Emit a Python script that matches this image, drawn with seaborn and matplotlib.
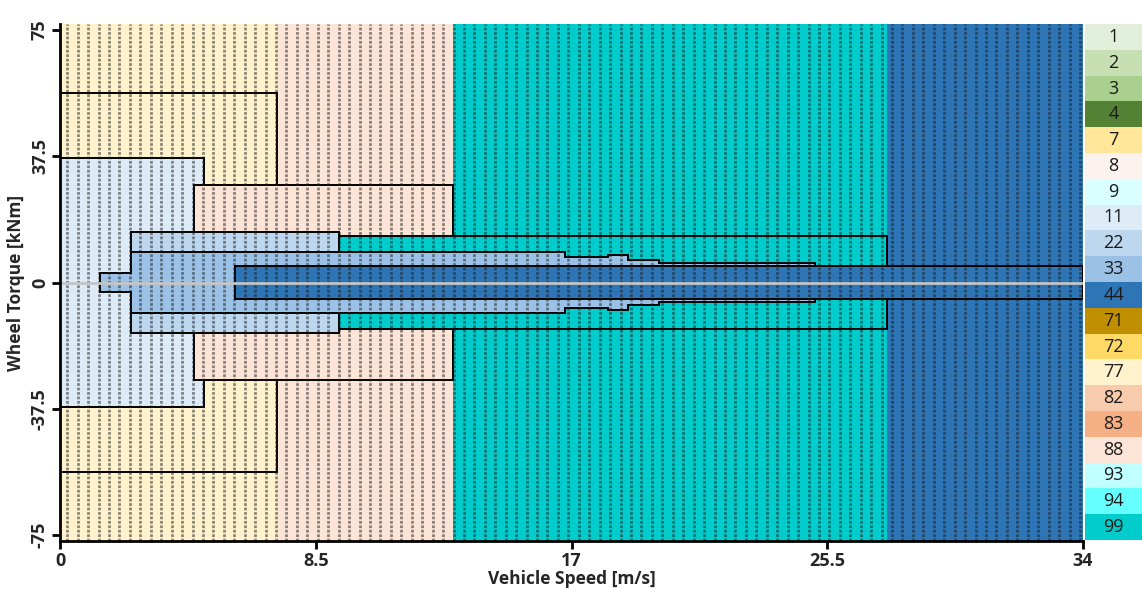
import numpy as np
import matplotlib
matplotlib.use("Agg")
import matplotlib.pyplot as plt
from matplotlib.colors import ListedColormap
import seaborn as sns

# ---------------- data ----------------
legend_classes = [1, 2, 3, 4, 7, 8, 9, 11, 22, 33, 44, 71, 72, 77, 82, 83, 88, 93, 94, 99]
legend_colors = ["#E2EFDA", "#C6E0B4", "#A9D08E", "#548235", "#FFE699", "#FDF3EE",
                 "#D9FFFF", "#DDEBF7", "#BDD7EE", "#9BC2E6", "#2E75B6", "#BF8F00",
                 "#FFD966", "#FFF2CC", "#F8CBAD", "#F4B084", "#FCE4D6", "#BFFFFF",
                 "#66FFFF", "#00CCCC"]
class_color = dict(zip(legend_classes, legend_colors))

# background speed bands (class over full torque range)
band_edges = [0, 7.21, 13.06, 27.48, 34]
band_classes = [77, 88, 99, 44]

# symmetric step regions: speed edges, half-height (kNm) per segment, class
reg77_x = [0, 7.21];                     reg77_h = [56.3]
reg11_x = [0, 4.79];                     reg11_h = [37.0]
reg88_x = [4.45, 13.06];                 reg88_h = [29.0]
reg99_x = [9.27, 27.48];                 reg99_h = [13.8]
reg22_x = [2.36, 9.27];                  reg22_h = [15.0]
reg33_x = [1.33, 2.36, 16.78, 18.21, 18.88, 19.91, 25.09]
reg33_h = [2.7, 9.0, 7.65, 8.2, 6.7, 5.9]
reg44_x = [5.82, 34];                    reg44_h = [4.8]
reg4_x = [16.85, 17.1];                  reg4_h = [0.35]

regions = [(reg77_x, reg77_h, 77, True), (reg11_x, reg11_h, 11, True),
           (reg88_x, reg88_h, 88, True), (reg99_x, reg99_h, 99, True),
           (reg22_x, reg22_h, 22, True), (reg33_x, reg33_h, 33, True),
           (reg44_x, reg44_h, 44, True), (reg4_x, reg4_h, 4, False)]

x_ticks = [0, 8.5, 17, 25.5, 34]
x_ticklabels = ["0", "8.5", "17", "25.5", "34"]
y_ticks = [75, 37.5, 0, -37.5, -75]
y_ticklabels = ["75", "37.5", "0", "-37.5", "-75"]

# ---------------- style ----------------
sns.set_theme(style="white")
plt.rcParams["font.family"] = ["Open Sans", "DejaVu Sans"]

fig = plt.figure(figsize=(11.42, 5.89), dpi=100)
ax = fig.add_axes([60 / 1142, 48 / 589, 1023 / 1142, 517 / 589])
lax = fig.add_axes([1085 / 1142, 49 / 589, 57 / 1142, 516 / 589])

ylim = 76.7
# background bands
for i, c in enumerate(band_classes):
    ax.fill_between([band_edges[i], band_edges[i + 1]], -ylim, ylim,
                    color=class_color[c], lw=0, zorder=1)


def step_poly(xs, hs):
    px, py = [], []
    for i, h in enumerate(hs):
        px += [xs[i], xs[i + 1]]
        py += [h, h]
    bot_x, bot_y = px[::-1], [-v for v in py[::-1]]
    return px + bot_x, py + bot_y


z = 2
for xs, hs, c, outline in regions:
    px, py = step_poly(xs, hs)
    ax.fill(px, py, facecolor=class_color[c],
            edgecolor="black" if outline else "none",
            lw=1.4, zorder=z, joinstyle="miter")
    z += 1

# dashed vertical hatching
hatch_x = np.arange(0.24, 34, 0.347)
ax.vlines(hatch_x, -ylim, ylim, colors="#1a1a1a", alpha=0.5, lw=2.0,
          linestyles=(0, (1.0, 0.6)), zorder=20)

ax.axhline(0, color="#C4C4C4", lw=2, zorder=21)

ax.set_xlim(0, 34)
ax.set_ylim(-ylim, ylim)
ax.set_xticks(x_ticks)
ax.set_xticklabels(x_ticklabels, fontsize=13, fontweight="bold")
ax.set_yticks(y_ticks)
ax.set_yticklabels(y_ticklabels, fontsize=13, fontweight="bold",
                   rotation=90, va="center")
ax.tick_params(axis="both", direction="out", length=6, width=2, color="black",
               bottom=True, left=True, pad=2)
for s in ["top", "right"]:
    ax.spines[s].set_visible(False)
for s in ["left", "bottom"]:
    ax.spines[s].set_color("black")
    ax.spines[s].set_linewidth(2)
    ax.spines[s].set_zorder(30)
ax.set_xlabel("Vehicle Speed [m/s]", fontsize=12.5, fontweight="bold", labelpad=0)
ax.set_ylabel("Wheel Torque [kNm]", fontsize=12.5, fontweight="bold", labelpad=4)

# legend as a seaborn heatmap colour table
leg_vals = np.arange(len(legend_classes)).reshape(-1, 1)
leg_text = np.array([[str(c)] for c in legend_classes])
sns.heatmap(leg_vals, cmap=ListedColormap(legend_colors), cbar=False,
            annot=leg_text, fmt="", vmin=-0.5, vmax=len(legend_classes) - 0.5,
            annot_kws={"color": "#1a1a1a", "fontsize": 13},
            xticklabels=False, yticklabels=False, ax=lax)
lax.tick_params(left=False, bottom=False)

fig.savefig("out.png", dpi=100)
